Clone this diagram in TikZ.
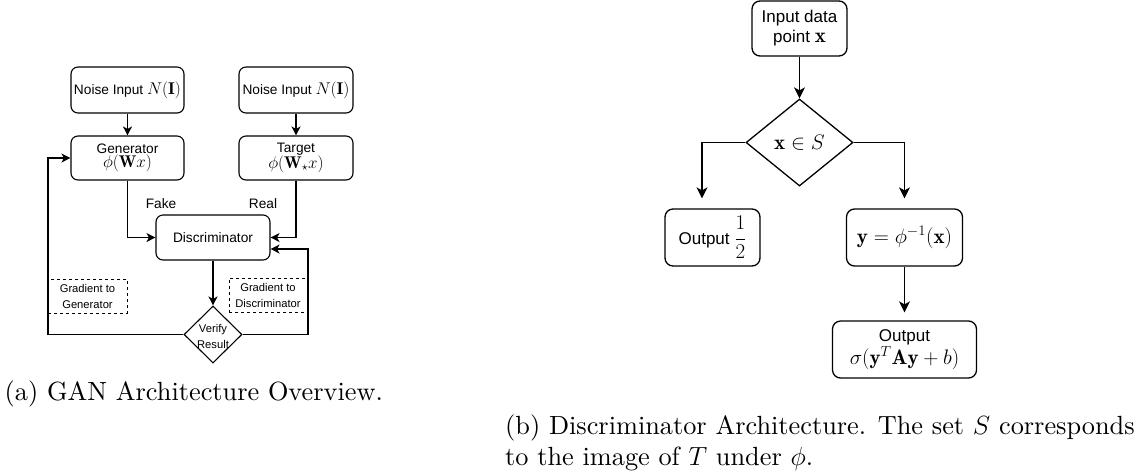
\documentclass[tikz,border=0pt]{standalone}
\usepackage{fix-cm}
\usepackage{fontspec}
\newfontfamily\arialf{Liberation Sans}
\newfontfamily\capfont{lmroman10-regular.otf}
\usetikzlibrary{shapes.geometric,arrows.meta,calc}
\newcommand\mxl[1]{{\fontsize{17}{17}\selectfont$#1$}}
\newcommand\mxr[1]{{\fontsize{21}{21}\selectfont$#1$}}
\tikzset{
  lbox/.style={draw, rounded corners=7pt, line width=1.1pt, align=center, inner sep=0pt,
    font=\arialf\fontsize{13.7}{15.5}\selectfont},
  rbox/.style={draw, rounded corners=8pt, line width=1.3pt, align=center, inner sep=0pt,
    font=\arialf\fontsize{17}{21}\selectfont},
  dbox/.style={draw, dashed, line width=0.9pt, align=center, inner sep=0pt,
    font=\arialf\fontsize{11.2}{16}\selectfont},
  lbl/.style={inner sep=0pt, font=\arialf\fontsize{13.7}{15}\selectfont},
  arrL/.style={line width=1.1pt, -{Stealth[length=9pt,width=9pt,inset=2.5pt]}},
  arrR/.style={line width=1.3pt, -{Stealth[length=11pt,width=11pt,inset=3pt]}},
  capt/.style={inner sep=0pt, font=\capfont\fontsize{26.3}{31.6}\selectfont},
}
\begin{document}
\begin{tikzpicture}[x=1pt,y=-1pt]
\useasboundingbox (0,0) rectangle (1145,475);
% ---------- (a) ----------
\node[lbox, minimum width=113pt, minimum height=46pt] (n1) at (127.5,90) {Noise Input \mxl{N(\mathbf{I})}};
\node[lbox, minimum width=114pt, minimum height=46pt] (n2) at (296,90) {Noise Input \mxl{N(\mathbf{I})}};
\node[lbox, minimum width=113pt, minimum height=44pt] (gen) at (127.5,158) {Generator\\[-1pt]\mxl{\phi(\mathbf{W}x)}};
\node[lbox, minimum width=114pt, minimum height=44pt] (tgt) at (296,158) {Target\\[-1pt]\mxl{\phi(\mathbf{W}_\star x)}};
\node[lbox, minimum width=114pt, minimum height=45pt] (disc) at (213,237.5) {Discriminator};
\node[draw, diamond, line width=1.1pt, minimum width=58pt, minimum height=57pt, inner sep=0pt] (ver) at (213,334.5) {};
\node[inner sep=0pt, align=center, font=\arialf\fontsize{11.2}{16}\selectfont] (vert) at (213,336) {Verify\\Result};
\node[dbox, minimum width=79pt, minimum height=34pt] (gg) at (87.5,296) {Gradient to\\Generator};
\node[dbox, minimum width=78pt, minimum height=34pt] (gd) at (268,295) {Gradient to\\Discriminator};
\node[lbl] (fake) at (161,204) {Fake};
\node[lbl] (real) at (263,204) {Real};
\coordinate (fbL) at (48,334.5);
\coordinate (fbR) at (308,334.5);
\draw[arrL] (n1) -- (gen);
\draw[arrL] (n2) -- (tgt);
\draw[arrL] (gen.south) |- (disc.west);
\draw[arrL] (tgt.south) |- (disc.east);
\draw[arrL] (disc) -- (ver);
\draw[arrL] (ver.west) -- (fbL) |- (gen.west);
\draw[arrL] (ver.east) -- (fbR) |- ($(disc.east)+(0,11.5)$);
% ---------- (b) ----------
\node[rbox, minimum width=95pt, minimum height=55pt] (inp) at (799.5,28.5) {Input data\\[-1pt]point \mxr{\mathbf{x}}};
\node[draw, diamond, line width=1.3pt, minimum width=107pt, minimum height=87pt, inner sep=0pt,
  font=\fontsize{21}{21}\selectfont] (cond) at (799.5,142.5) {$\mathbf{x}\in S$};
\node[rbox, minimum width=95pt, minimum height=57pt] (half) at (712.5,237.5) {Output \mxr{\displaystyle\frac{1}{2}}};
\node[rbox, minimum width=116pt, minimum height=57pt] (ybox) at (904.5,237.5) {\mxr{\mathbf{y}=\phi^{-1}(\mathbf{x})}};
\node[rbox, minimum width=144pt, minimum height=57pt] (out) at (904.5,349.5) {Output\\[1pt]\mxr{\sigma\bigl(\mathbf{y}^T\mathbf{A}\mathbf{y}+b\bigr)}};
\draw[arrR] (inp) -- (cond);
\draw[arrR, shorten >=10pt] (cond.west) -| ([xshift=-10.5pt]half.north);
\draw[arrR, shorten >=10pt] (cond.east) -| (ybox.north);
\draw[arrR, shorten >=8pt] (ybox.south) -- (out.north);
% ---------- captions ----------
\node[capt, anchor=base west] (capa) at (4.5,400) {(a) GAN Architecture Overview.};
\node[capt, anchor=base west] (capb1) at (505,434) {(b) Discriminator Architecture. The set $S$ corresponds};
\node[capt, anchor=base west] (capb2) at (505,465.5) {to the image of $T$ under $\phi$.};
\end{tikzpicture}
\end{document}
